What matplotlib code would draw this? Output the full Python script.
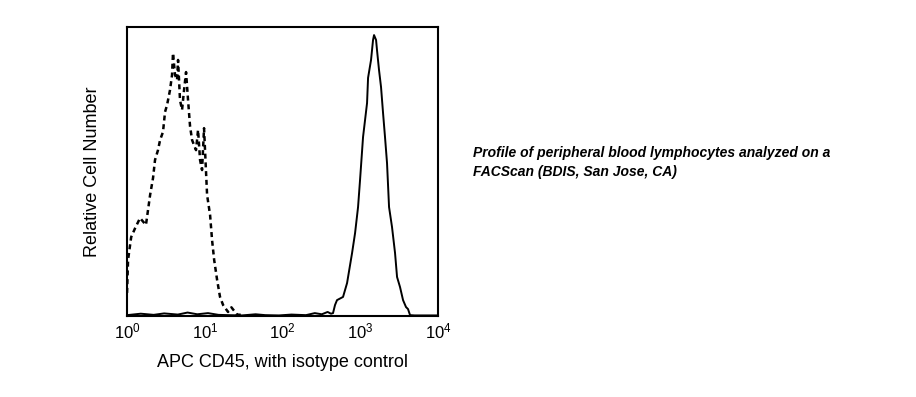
"""Flow cytometry histogram: APC CD45 vs isotype control."""
import matplotlib
matplotlib.use("Agg")
import matplotlib.pyplot as plt

plt.rcParams["font.family"] = ["Liberation Sans", "DejaVu Sans"]
plt.rcParams["mathtext.default"] = "regular"

# isotype control (dashed)
iso_x = [1.0, 1.03, 1.13, 1.27, 1.47, 1.75, 1.98, 2.16, 2.29, 2.5, 2.66, 2.9, 3.08,
         3.27, 3.57, 3.79, 3.9, 4.14, 4.4, 4.53, 4.8, 5.1, 5.41, 5.74, 6.09, 6.46,
         6.86, 7.71, 8.19, 8.69, 9.22, 9.78, 10.07, 10.7, 11.7, 12.4, 13.2, 14.4,
         15.7, 17.2, 19.9, 22.0, 26.0, 32.0]
iso_y = [8.0, 19.4, 27.3, 30.4, 33.9, 31.5, 41.9, 47.8, 54.0, 57.4, 60.9, 63.7, 70.6,
         73.0, 78.2, 83.4, 91.0, 83.4, 81.7, 88.6, 74.7, 71.3, 78.2, 84.4, 74.7, 65.7,
         60.9, 57.4, 64.4, 54.0, 50.5, 65.0, 57.4, 41.9, 34.9, 26.3, 19.4, 12.5,
         6.6, 3.8, 1.4, 3.0, 0.5, 0.3]

# APC CD45 (solid)
cd45_x = [1.0, 1.5, 2.2, 3.0, 4.5, 6.0, 8.0, 11.0, 15.0, 20.0, 30.0, 45.0, 60.0,
          90.0, 130.0, 200.0, 260.0, 320.0, 380.0, 420.0, 446, 473, 502, 600, 676,
          784, 857, 936, 993, 1085, 1222, 1259, 1375, 1459, 1503, 1596, 1641, 1742,
          1849, 1963, 2080, 2208, 2344, 2559, 2799, 2971, 3246, 3548, 3873, 4111,
          4365, 5000, 7000, 10000]
cd45_y = [0.3, 0.8, 0.4, 0.9, 0.5, 1.2, 0.6, 1.0, 0.4, 0.3, 0.2, 0.6, 0.3,
          0.2, 0.5, 0.3, 1.0, 0.6, 1.4, 0.8, 1.0, 3.8, 5.5, 6.6, 11.4,
          21.8, 28.7, 37.7, 47.1, 61.9, 73.7, 82.4, 88.6, 95.5, 97.2, 95.5, 92.0, 85.1,
          79.2, 70.2, 61.9, 52.9, 37.7, 30.8, 21.8, 13.5, 10.0, 5.5, 3.1, 2.4,
          0.3, 0.2, 0.2, 0.2]

fig = plt.figure(figsize=(9.16, 3.97), dpi=100)
ax = fig.add_axes([0.1387, 0.204, 0.3395, 0.728])

ax.plot(cd45_x, cd45_y, color="black", lw=1.4)
ax.plot(iso_x, iso_y, color="black", lw=1.8, linestyle=(0, (2.0, 1.5)))

ax.set_xscale("log")
ax.set_xlim(1, 1e4)
ax.set_ylim(0, 100)
ax.set_xticks([1, 10, 100, 1000, 10000])
ax.minorticks_off()
ax.set_yticks([])
ax.tick_params(axis="x", length=0, pad=4, labelsize=12)
for spine in ax.spines.values():
    spine.set_linewidth(1.5)

ax.set_xlabel("APC CD45, with isotype control", fontsize=13, labelpad=9)
ax.set_ylabel("Relative Cell Number", fontsize=13, labelpad=19)

fig.text(0.516, 0.59, "Profile of peripheral blood lymphocytes analyzed on a\nFACScan (BDIS, San Jose, CA)",
         fontsize=10, fontweight="bold", fontstyle="italic", va="center", ha="left", linespacing=1.45)

fig.savefig("out.png", dpi=100)
